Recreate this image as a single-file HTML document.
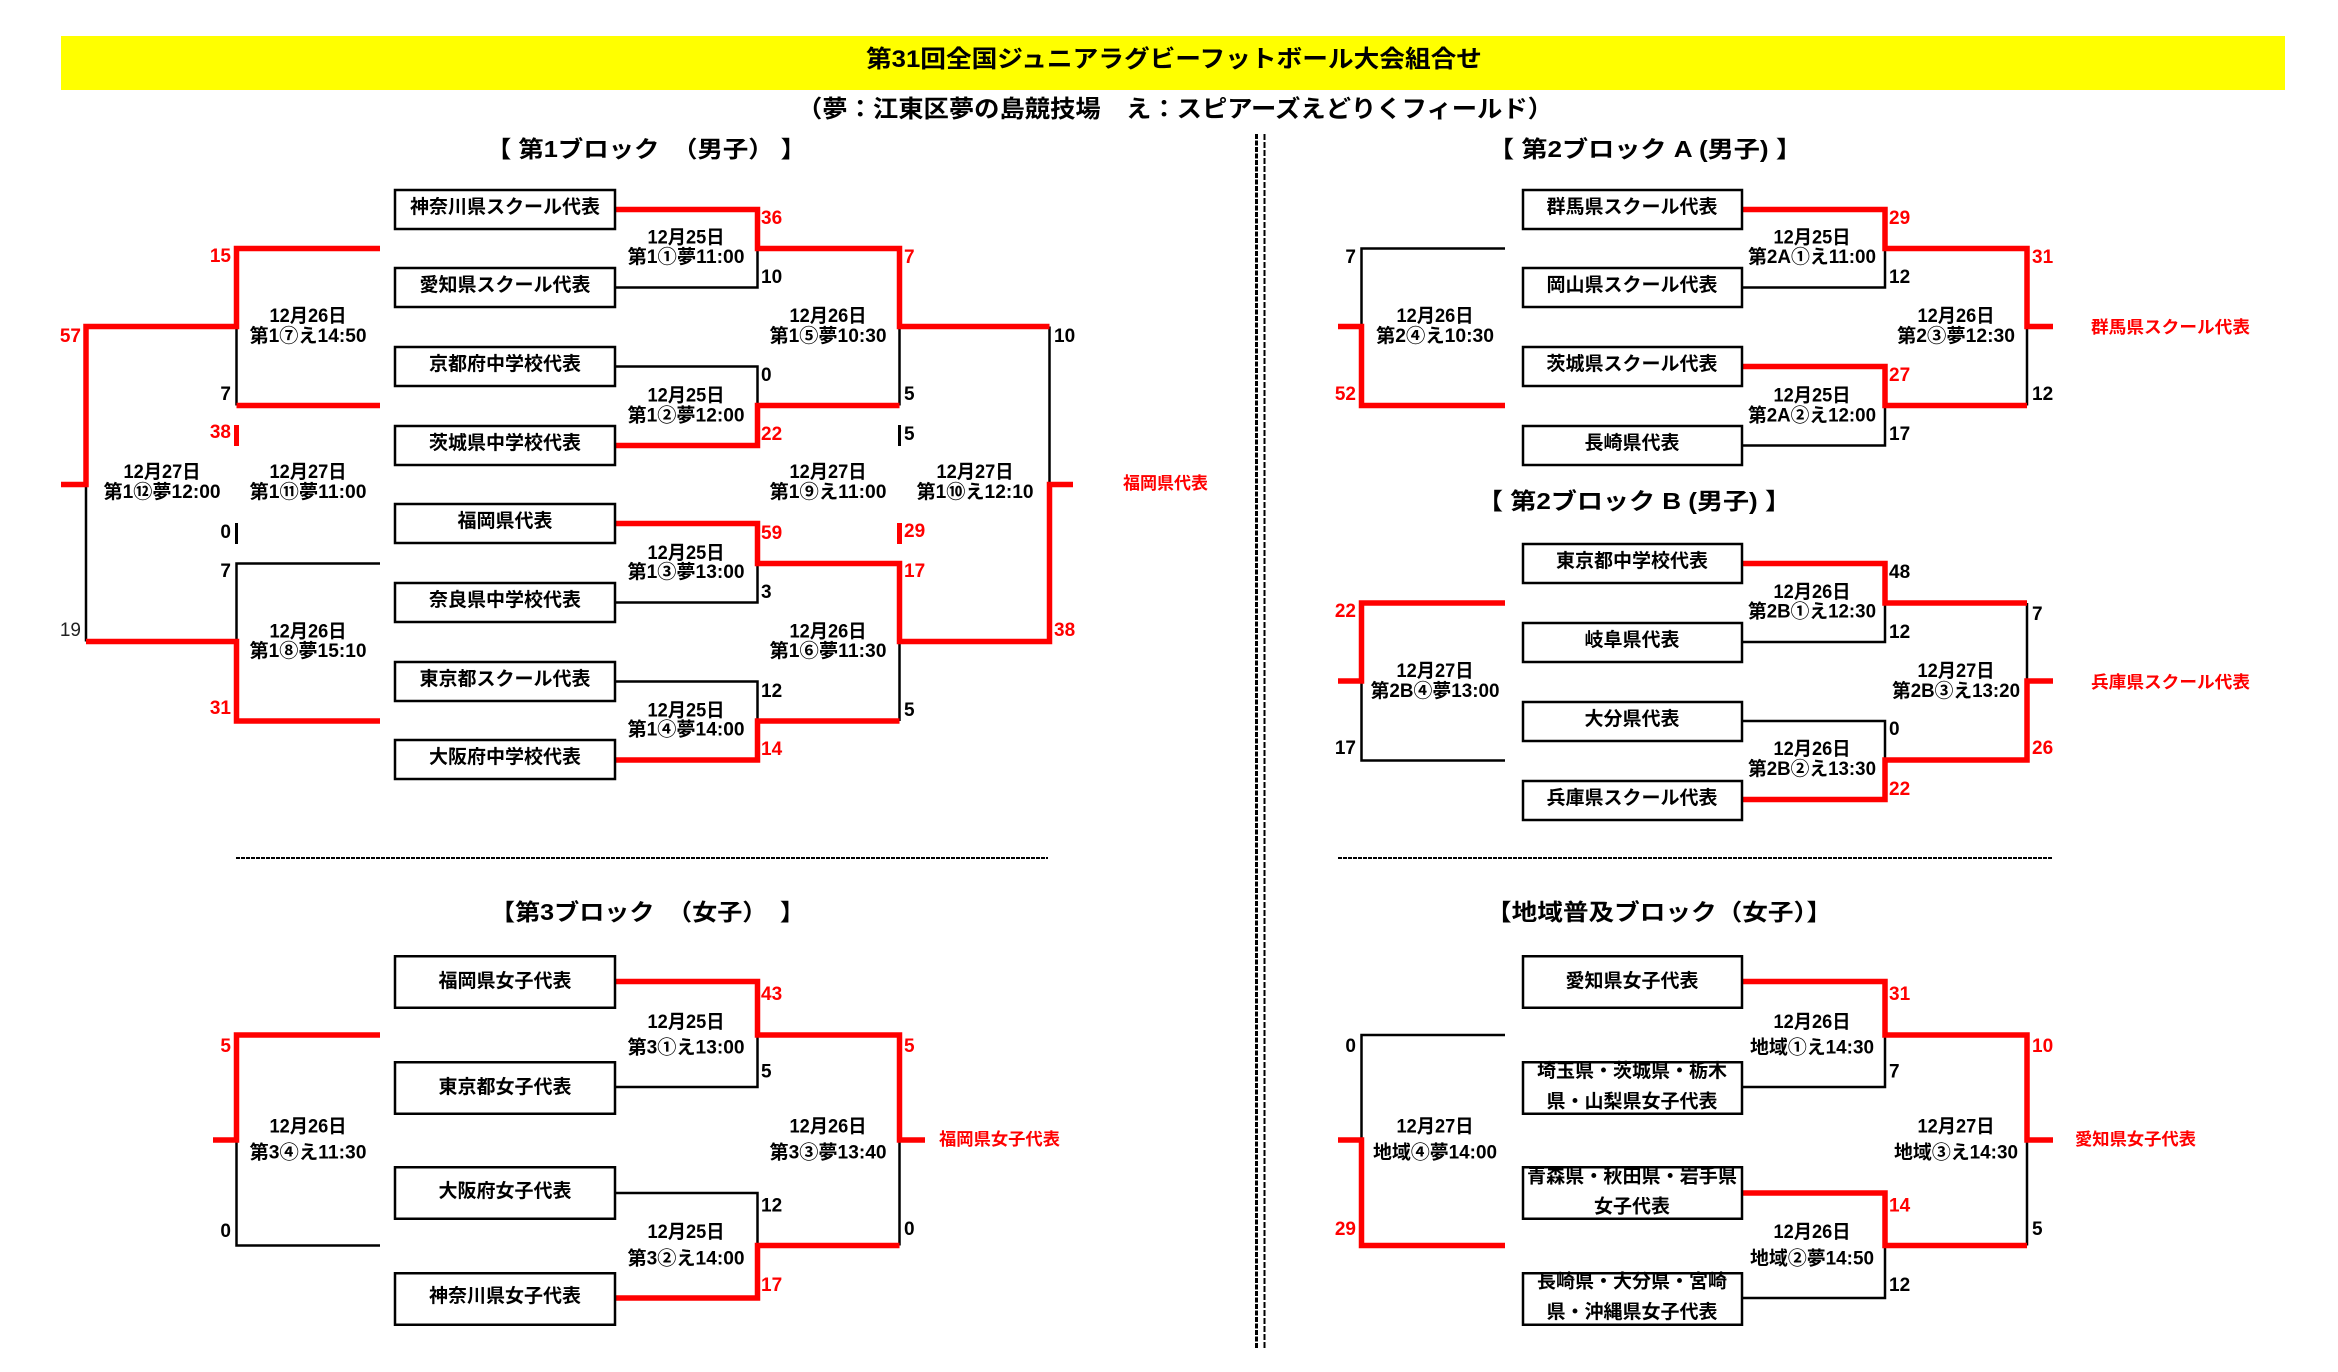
<!DOCTYPE html>
<html><head><meta charset="utf-8">
<style>
html,body{margin:0;padding:0;background:#fff;}
svg{display:block;}
text{font-family:"Liberation Sans","Noto Sans CJK JP",sans-serif;font-weight:bold;fill:#000;}
.s{font-size:19px;}
.d{font-size:19px;text-anchor:middle;}
.b{font-size:19px;text-anchor:middle;}
.e{text-anchor:end;}
.rd{fill:#f00;}
.w{font-size:17px;fill:#f00;}
.h{font-size:23px;}
.r{fill:none;stroke:#f00;stroke-width:5.5;stroke-linejoin:miter;}
.k{fill:none;stroke:#000;stroke-width:2.5;}
.bx{fill:#fff;stroke:#000;stroke-width:2.5;}
</style></head>
<body>
<svg width="2338" height="1372" viewBox="0 0 2338 1372" xmlns="http://www.w3.org/2000/svg">
<rect x="0" y="0" width="2338" height="1372" fill="#fff"/>
<rect x="61" y="36" width="2224" height="54" fill="#ffff00"/>
<text x="866" y="67" font-size="24" textLength="616" lengthAdjust="spacingAndGlyphs">第31回全国ジュニアラグビーフットボール大会組合せ</text>
<text x="797" y="117" font-size="24" textLength="756" lengthAdjust="spacingAndGlyphs">（夢：江東区夢の島競技場　え：スピアーズえどりくフィールド）</text>

<!-- dividers -->
<line x1="1256.5" y1="134" x2="1256.5" y2="1348" stroke="#000" stroke-width="3" stroke-dasharray="5 1.5"/>
<line x1="1264.5" y1="134" x2="1264.5" y2="1348" stroke="#000" stroke-width="2" stroke-dasharray="6 2"/>
<line x1="236" y1="858" x2="1048" y2="858" stroke="#000" stroke-width="2" stroke-dasharray="4 1"/>
<line x1="1338" y1="858" x2="2053" y2="858" stroke="#000" stroke-width="2" stroke-dasharray="4 1"/>

<!-- headings -->
<text class="h" x="486" y="157" textLength="320" lengthAdjust="spacingAndGlyphs">【 第1ブロック　（男子） 】</text>
<text class="h" x="1488" y="157" textLength="314" lengthAdjust="spacingAndGlyphs">【 第2ブロック A (男子) 】</text>
<text class="h" x="1477" y="509" textLength="314" lengthAdjust="spacingAndGlyphs">【 第2ブロック B (男子) 】</text>
<text class="h" x="490" y="920" textLength="315" lengthAdjust="spacingAndGlyphs">【第3ブロック　（女子）　】</text>
<text class="h" x="1486" y="920" textLength="346" lengthAdjust="spacingAndGlyphs">【地域普及ブロック（女子）】</text>

<!-- ============ BLOCK 1 lines ============ -->
<path class="k" d="M616 287.5 H757.5 V248.5"/>
<path class="k" d="M616 366.5 H757.5 V405.5"/>
<path class="k" d="M616 602.5 H757.5 V563.5"/>
<path class="k" d="M616 681.5 H757.5 V721"/>
<path class="k" d="M899.5 326.5 V405.5"/>
<path class="k" d="M899.5 641.5 V721"/>
<path class="k" d="M1049.5 326.5 V484.5"/>
<path class="k" d="M236.5 326.5 V405.5"/>
<path class="k" d="M380 563.5 H236.5 V641.5"/>
<path class="k" d="M86 484.5 V641.5"/>
<line x1="899.5" y1="425" x2="899.5" y2="446" stroke="#000" stroke-width="3"/>
<line x1="236.5" y1="523" x2="236.5" y2="544" stroke="#000" stroke-width="3"/>
<path class="r" d="M616 209.5 H757.5 V248.5 H899.5 V326.5 H1049.5"/>
<path class="r" d="M616 445.5 H757.5 V405.5 H899.5"/>
<path class="r" d="M616 523.5 H757.5 V563.5 H899.5 V641.5 H1049.5 V484.5 H1073"/>
<path class="r" d="M616 760 H757.5 V721 H899.5"/>
<path class="r" d="M380 248.5 H236.5 V326.5 H86 V484.5 H61"/>
<path class="r" d="M380 405.5 H236.5"/>
<path class="r" d="M380 721 H236.5 V641.5 H86"/>
<line x1="899.5" y1="523" x2="899.5" y2="544" stroke="#f00" stroke-width="5"/>
<line x1="236.5" y1="425" x2="236.5" y2="446" stroke="#f00" stroke-width="5"/>

<!-- BLOCK 1 boxes -->
<rect class="bx" x="395" y="190" width="220" height="39"/>
<rect class="bx" x="395" y="268" width="220" height="39"/>
<rect class="bx" x="395" y="347" width="220" height="39"/>
<rect class="bx" x="395" y="426" width="220" height="39"/>
<rect class="bx" x="395" y="504" width="220" height="39"/>
<rect class="bx" x="395" y="583" width="220" height="39"/>
<rect class="bx" x="395" y="662" width="220" height="39"/>
<rect class="bx" x="395" y="740" width="220" height="39"/>
<text class="b" x="505" y="213" textLength="190" lengthAdjust="spacingAndGlyphs">神奈川県スクール代表</text>
<text class="b" x="505" y="291" textLength="171" lengthAdjust="spacingAndGlyphs">愛知県スクール代表</text>
<text class="b" x="505" y="370" textLength="152" lengthAdjust="spacingAndGlyphs">京都府中学校代表</text>
<text class="b" x="505" y="449" textLength="152" lengthAdjust="spacingAndGlyphs">茨城県中学校代表</text>
<text class="b" x="505" y="527" textLength="95" lengthAdjust="spacingAndGlyphs">福岡県代表</text>
<text class="b" x="505" y="606" textLength="152" lengthAdjust="spacingAndGlyphs">奈良県中学校代表</text>
<text class="b" x="505" y="685" textLength="171" lengthAdjust="spacingAndGlyphs">東京都スクール代表</text>
<text class="b" x="505" y="763" textLength="152" lengthAdjust="spacingAndGlyphs">大阪府中学校代表</text>

<!-- BLOCK 1 labels -->
<text class="d" x="686" y="243.5" textLength="77" lengthAdjust="spacingAndGlyphs">12月25日</text>
<text class="d" x="686" y="263" textLength="117" lengthAdjust="spacingAndGlyphs">第1①夢11:00</text>
<text class="d" x="686" y="401.5" textLength="77" lengthAdjust="spacingAndGlyphs">12月25日</text>
<text class="d" x="686" y="421.5" textLength="117" lengthAdjust="spacingAndGlyphs">第1②夢12:00</text>
<text class="d" x="686" y="559" textLength="77" lengthAdjust="spacingAndGlyphs">12月25日</text>
<text class="d" x="686" y="578" textLength="117" lengthAdjust="spacingAndGlyphs">第1③夢13:00</text>
<text class="d" x="686" y="716.5" textLength="77" lengthAdjust="spacingAndGlyphs">12月25日</text>
<text class="d" x="686" y="735.5" textLength="117" lengthAdjust="spacingAndGlyphs">第1④夢14:00</text>
<text class="d" x="828" y="322" textLength="77" lengthAdjust="spacingAndGlyphs">12月26日</text>
<text class="d" x="828" y="342" textLength="117" lengthAdjust="spacingAndGlyphs">第1⑤夢10:30</text>
<text class="d" x="828" y="637.5" textLength="77" lengthAdjust="spacingAndGlyphs">12月26日</text>
<text class="d" x="828" y="657" textLength="117" lengthAdjust="spacingAndGlyphs">第1⑥夢11:30</text>
<text class="d" x="308" y="322" textLength="77" lengthAdjust="spacingAndGlyphs">12月26日</text>
<text class="d" x="308" y="342" textLength="117" lengthAdjust="spacingAndGlyphs">第1⑦え14:50</text>
<text class="d" x="308" y="637.5" textLength="77" lengthAdjust="spacingAndGlyphs">12月26日</text>
<text class="d" x="308" y="657" textLength="117" lengthAdjust="spacingAndGlyphs">第1⑧夢15:10</text>
<text class="d" x="162" y="478" textLength="77" lengthAdjust="spacingAndGlyphs">12月27日</text>
<text class="d" x="162" y="498" textLength="117" lengthAdjust="spacingAndGlyphs">第1⑫夢12:00</text>
<text class="d" x="308" y="478" textLength="77" lengthAdjust="spacingAndGlyphs">12月27日</text>
<text class="d" x="308" y="498" textLength="117" lengthAdjust="spacingAndGlyphs">第1⑪夢11:00</text>
<text class="d" x="828" y="478" textLength="77" lengthAdjust="spacingAndGlyphs">12月27日</text>
<text class="d" x="828" y="498" textLength="117" lengthAdjust="spacingAndGlyphs">第1⑨え11:00</text>
<text class="d" x="975" y="478" textLength="77" lengthAdjust="spacingAndGlyphs">12月27日</text>
<text class="d" x="975" y="498" textLength="117" lengthAdjust="spacingAndGlyphs">第1⑩え12:10</text>

<!-- BLOCK 1 scores -->
<text class="s rd" x="761" y="224">36</text>
<text class="s" x="761" y="283">10</text>
<text class="s" x="761" y="381">0</text>
<text class="s rd" x="761" y="440">22</text>
<text class="s rd" x="761" y="539">59</text>
<text class="s" x="761" y="598">3</text>
<text class="s" x="761" y="697">12</text>
<text class="s rd" x="761" y="755">14</text>
<text class="s rd" x="904" y="263">7</text>
<text class="s" x="904" y="400">5</text>
<text class="s" x="904" y="440">5</text>
<text class="s rd" x="904" y="537">29</text>
<text class="s rd" x="904" y="577">17</text>
<text class="s" x="904" y="716">5</text>
<text class="s" x="1054" y="342">10</text>
<text class="s rd" x="1054" y="636">38</text>
<text class="s e rd" x="231" y="262">15</text>
<text class="s e" x="231" y="400">7</text>
<text class="s e rd" x="231" y="438">38</text>
<text class="s e" x="231" y="538">0</text>
<text class="s e" x="231" y="577">7</text>
<text class="s e rd" x="231" y="714">31</text>
<text class="s e rd" x="81" y="342">57</text>
<text class="s e" x="81" y="636" style="font-weight:normal;fill:#222">19</text>
<text class="w" x="1123" y="489" textLength="85" lengthAdjust="spacingAndGlyphs">福岡県代表</text>

<!-- ============ BLOCK 2A ============ -->
<path class="k" d="M1742 287.5 H1885 V248.5"/>
<path class="k" d="M1885 405.5 V445.5 H1742"/>
<path class="k" d="M2027 326.5 V405.5"/>
<path class="k" d="M1505 248.5 H1361.5 V326.5"/>
<path class="r" d="M1742 209.5 H1885 V248.5 H2027 V326.5 H2053"/>
<path class="r" d="M1742 366.5 H1885 V405.5 H2027"/>
<path class="r" d="M1505 405.5 H1361.5 V326.5 H1338"/>
<rect class="bx" x="1523" y="190" width="219" height="39"/>
<rect class="bx" x="1523" y="268" width="219" height="39"/>
<rect class="bx" x="1523" y="347" width="219" height="39"/>
<rect class="bx" x="1523" y="426" width="219" height="39"/>
<text class="b" x="1632" y="213" textLength="171" lengthAdjust="spacingAndGlyphs">群馬県スクール代表</text>
<text class="b" x="1632" y="291" textLength="171" lengthAdjust="spacingAndGlyphs">岡山県スクール代表</text>
<text class="b" x="1632" y="370" textLength="171" lengthAdjust="spacingAndGlyphs">茨城県スクール代表</text>
<text class="b" x="1632" y="449" textLength="95" lengthAdjust="spacingAndGlyphs">長崎県代表</text>
<text class="d" x="1812" y="243.5" textLength="77" lengthAdjust="spacingAndGlyphs">12月25日</text>
<text class="d" x="1812" y="263" textLength="128" lengthAdjust="spacingAndGlyphs">第2A①え11:00</text>
<text class="d" x="1812" y="401.5" textLength="77" lengthAdjust="spacingAndGlyphs">12月25日</text>
<text class="d" x="1812" y="421.5" textLength="128" lengthAdjust="spacingAndGlyphs">第2A②え12:00</text>
<text class="d" x="1956" y="322" textLength="77" lengthAdjust="spacingAndGlyphs">12月26日</text>
<text class="d" x="1956" y="342" textLength="118" lengthAdjust="spacingAndGlyphs">第2③夢12:30</text>
<text class="d" x="1435" y="322" textLength="77" lengthAdjust="spacingAndGlyphs">12月26日</text>
<text class="d" x="1435" y="342" textLength="118" lengthAdjust="spacingAndGlyphs">第2④え10:30</text>
<text class="s rd" x="1889" y="224">29</text>
<text class="s" x="1889" y="283">12</text>
<text class="s rd" x="1889" y="381">27</text>
<text class="s" x="1889" y="440">17</text>
<text class="s rd" x="2032" y="263">31</text>
<text class="s" x="2032" y="400">12</text>
<text class="s e" x="1356" y="263">7</text>
<text class="s e rd" x="1356" y="400">52</text>
<text class="w" x="2091" y="333" textLength="159" lengthAdjust="spacingAndGlyphs">群馬県スクール代表</text>

<!-- ============ BLOCK 2B ============ -->
<path class="k" d="M1885 603 V642 H1742"/>
<path class="k" d="M1742 721 H1885 V760"/>
<path class="k" d="M2027 603 V681"/>
<path class="k" d="M1361.5 681 V760.5 H1505"/>
<path class="r" d="M1742 563.5 H1885 V603 H2027"/>
<path class="r" d="M1742 799.5 H1885 V760 H2027 V681 H2053"/>
<path class="r" d="M1505 603 H1361.5 V681 H1338"/>
<rect class="bx" x="1523" y="544" width="219" height="39"/>
<rect class="bx" x="1523" y="623" width="219" height="39"/>
<rect class="bx" x="1523" y="702" width="219" height="39"/>
<rect class="bx" x="1523" y="781" width="219" height="39"/>
<text class="b" x="1632" y="567" textLength="152" lengthAdjust="spacingAndGlyphs">東京都中学校代表</text>
<text class="b" x="1632" y="646" textLength="95" lengthAdjust="spacingAndGlyphs">岐阜県代表</text>
<text class="b" x="1632" y="725" textLength="95" lengthAdjust="spacingAndGlyphs">大分県代表</text>
<text class="b" x="1632" y="804" textLength="171" lengthAdjust="spacingAndGlyphs">兵庫県スクール代表</text>
<text class="d" x="1812" y="598" textLength="77" lengthAdjust="spacingAndGlyphs">12月26日</text>
<text class="d" x="1812" y="617.5" textLength="128" lengthAdjust="spacingAndGlyphs">第2B①え12:30</text>
<text class="d" x="1812" y="755" textLength="77" lengthAdjust="spacingAndGlyphs">12月26日</text>
<text class="d" x="1812" y="775" textLength="128" lengthAdjust="spacingAndGlyphs">第2B②え13:30</text>
<text class="d" x="1956" y="677" textLength="77" lengthAdjust="spacingAndGlyphs">12月27日</text>
<text class="d" x="1956" y="697" textLength="128" lengthAdjust="spacingAndGlyphs">第2B③え13:20</text>
<text class="d" x="1435" y="677" textLength="77" lengthAdjust="spacingAndGlyphs">12月27日</text>
<text class="d" x="1435" y="697" textLength="129" lengthAdjust="spacingAndGlyphs">第2B④夢13:00</text>
<text class="s" x="1889" y="578">48</text>
<text class="s" x="1889" y="638">12</text>
<text class="s" x="1889" y="735">0</text>
<text class="s rd" x="1889" y="795">22</text>
<text class="s" x="2032" y="620">7</text>
<text class="s rd" x="2032" y="754">26</text>
<text class="s e rd" x="1356" y="617">22</text>
<text class="s e" x="1356" y="754">17</text>
<text class="w" x="2091" y="688" textLength="159" lengthAdjust="spacingAndGlyphs">兵庫県スクール代表</text>

<!-- ============ BLOCK 3 ============ -->
<path class="k" d="M757.5 1035 V1087 H616"/>
<path class="k" d="M616 1193 H757.5 V1245.5"/>
<path class="k" d="M899.5 1140 V1245.5"/>
<path class="k" d="M236.5 1140 V1245.5 H380"/>
<path class="r" d="M616 981.5 H757.5 V1035 H899.5 V1140 H925"/>
<path class="r" d="M616 1298 H757.5 V1245.5 H899.5"/>
<path class="r" d="M380 1035 H236.5 V1140 H213"/>
<rect class="bx" x="395" y="956.25" width="220" height="51.5"/>
<rect class="bx" x="395" y="1062.25" width="220" height="51.5"/>
<rect class="bx" x="395" y="1167.25" width="220" height="51.5"/>
<rect class="bx" x="395" y="1273.25" width="220" height="51.5"/>
<text class="b" x="505" y="987" textLength="133" lengthAdjust="spacingAndGlyphs">福岡県女子代表</text>
<text class="b" x="505" y="1093" textLength="133" lengthAdjust="spacingAndGlyphs">東京都女子代表</text>
<text class="b" x="505" y="1197" textLength="133" lengthAdjust="spacingAndGlyphs">大阪府女子代表</text>
<text class="b" x="505" y="1302" textLength="152" lengthAdjust="spacingAndGlyphs">神奈川県女子代表</text>
<text class="d" x="686" y="1028" textLength="77" lengthAdjust="spacingAndGlyphs">12月25日</text>
<text class="d" x="686" y="1053.5" textLength="117" lengthAdjust="spacingAndGlyphs">第3①え13:00</text>
<text class="d" x="686" y="1238" textLength="77" lengthAdjust="spacingAndGlyphs">12月25日</text>
<text class="d" x="686" y="1264.5" textLength="117" lengthAdjust="spacingAndGlyphs">第3②え14:00</text>
<text class="d" x="828" y="1132.5" textLength="77" lengthAdjust="spacingAndGlyphs">12月26日</text>
<text class="d" x="828" y="1158.5" textLength="117" lengthAdjust="spacingAndGlyphs">第3③夢13:40</text>
<text class="d" x="308" y="1132.5" textLength="77" lengthAdjust="spacingAndGlyphs">12月26日</text>
<text class="d" x="308" y="1158.5" textLength="117" lengthAdjust="spacingAndGlyphs">第3④え11:30</text>
<text class="s rd" x="761" y="1000">43</text>
<text class="s" x="761" y="1077.5">5</text>
<text class="s" x="761" y="1211.5">12</text>
<text class="s rd" x="761" y="1291">17</text>
<text class="s rd" x="904" y="1052">5</text>
<text class="s" x="904" y="1235">0</text>
<text class="s e rd" x="231" y="1052">5</text>
<text class="s e" x="231" y="1237">0</text>
<text class="w" x="939" y="1145" textLength="121" lengthAdjust="spacingAndGlyphs">福岡県女子代表</text>

<!-- ============ BLOCK 4 ============ -->
<path class="k" d="M1885 1035 V1087 H1742"/>
<path class="k" d="M1885 1245.5 V1298 H1742"/>
<path class="k" d="M2027 1140 V1245.5"/>
<path class="k" d="M1505 1035 H1361.5 V1140"/>
<path class="r" d="M1742 981.5 H1885 V1035 H2027 V1140 H2053"/>
<path class="r" d="M1742 1193 H1885 V1245.5 H2027"/>
<path class="r" d="M1505 1245.5 H1361.5 V1140 H1338"/>
<text class="b" x="1632" y="987" textLength="133" lengthAdjust="spacingAndGlyphs">愛知県女子代表</text>
<text class="b" x="1632" y="1077" textLength="190" lengthAdjust="spacingAndGlyphs">埼玉県・茨城県・栃木</text>
<text class="b" x="1632" y="1107.5" textLength="171" lengthAdjust="spacingAndGlyphs">県・山梨県女子代表</text>
<text class="b" x="1632" y="1182.5" textLength="210" lengthAdjust="spacingAndGlyphs">青森県・秋田県・岩手県</text>
<text class="b" x="1632" y="1212.5" textLength="76" lengthAdjust="spacingAndGlyphs">女子代表</text>
<text class="b" x="1632" y="1287.5" textLength="190" lengthAdjust="spacingAndGlyphs">長崎県・大分県・宮崎</text>
<text class="b" x="1632" y="1318" textLength="171" lengthAdjust="spacingAndGlyphs">県・沖縄県女子代表</text>
<rect x="1523" y="956.25" width="219" height="51.5" fill="none" stroke="#000" stroke-width="2.5"/>
<rect x="1523" y="1062.25" width="219" height="51.5" fill="none" stroke="#000" stroke-width="2.5"/>
<rect x="1523" y="1167.25" width="219" height="51.5" fill="none" stroke="#000" stroke-width="2.5"/>
<rect x="1523" y="1273.25" width="219" height="51.5" fill="none" stroke="#000" stroke-width="2.5"/>
<text class="d" x="1812" y="1028" textLength="77" lengthAdjust="spacingAndGlyphs">12月26日</text>
<text class="d" x="1812" y="1053.5" textLength="124" lengthAdjust="spacingAndGlyphs">地域①え14:30</text>
<text class="d" x="1812" y="1238" textLength="77" lengthAdjust="spacingAndGlyphs">12月26日</text>
<text class="d" x="1812" y="1264.5" textLength="124" lengthAdjust="spacingAndGlyphs">地域②夢14:50</text>
<text class="d" x="1956" y="1132.5" textLength="77" lengthAdjust="spacingAndGlyphs">12月27日</text>
<text class="d" x="1956" y="1158.5" textLength="124" lengthAdjust="spacingAndGlyphs">地域③え14:30</text>
<text class="d" x="1435" y="1132.5" textLength="77" lengthAdjust="spacingAndGlyphs">12月27日</text>
<text class="d" x="1435" y="1158.5" textLength="124" lengthAdjust="spacingAndGlyphs">地域④夢14:00</text>
<text class="s rd" x="1889" y="1000">31</text>
<text class="s" x="1889" y="1077.5">7</text>
<text class="s rd" x="1889" y="1211.5">14</text>
<text class="s" x="1889" y="1291">12</text>
<text class="s rd" x="2032" y="1052">10</text>
<text class="s" x="2032" y="1235">5</text>
<text class="s e" x="1356" y="1052">0</text>
<text class="s e rd" x="1356" y="1235">29</text>
<text class="w" x="2075" y="1145" textLength="121" lengthAdjust="spacingAndGlyphs">愛知県女子代表</text>
</svg>
</body></html>
